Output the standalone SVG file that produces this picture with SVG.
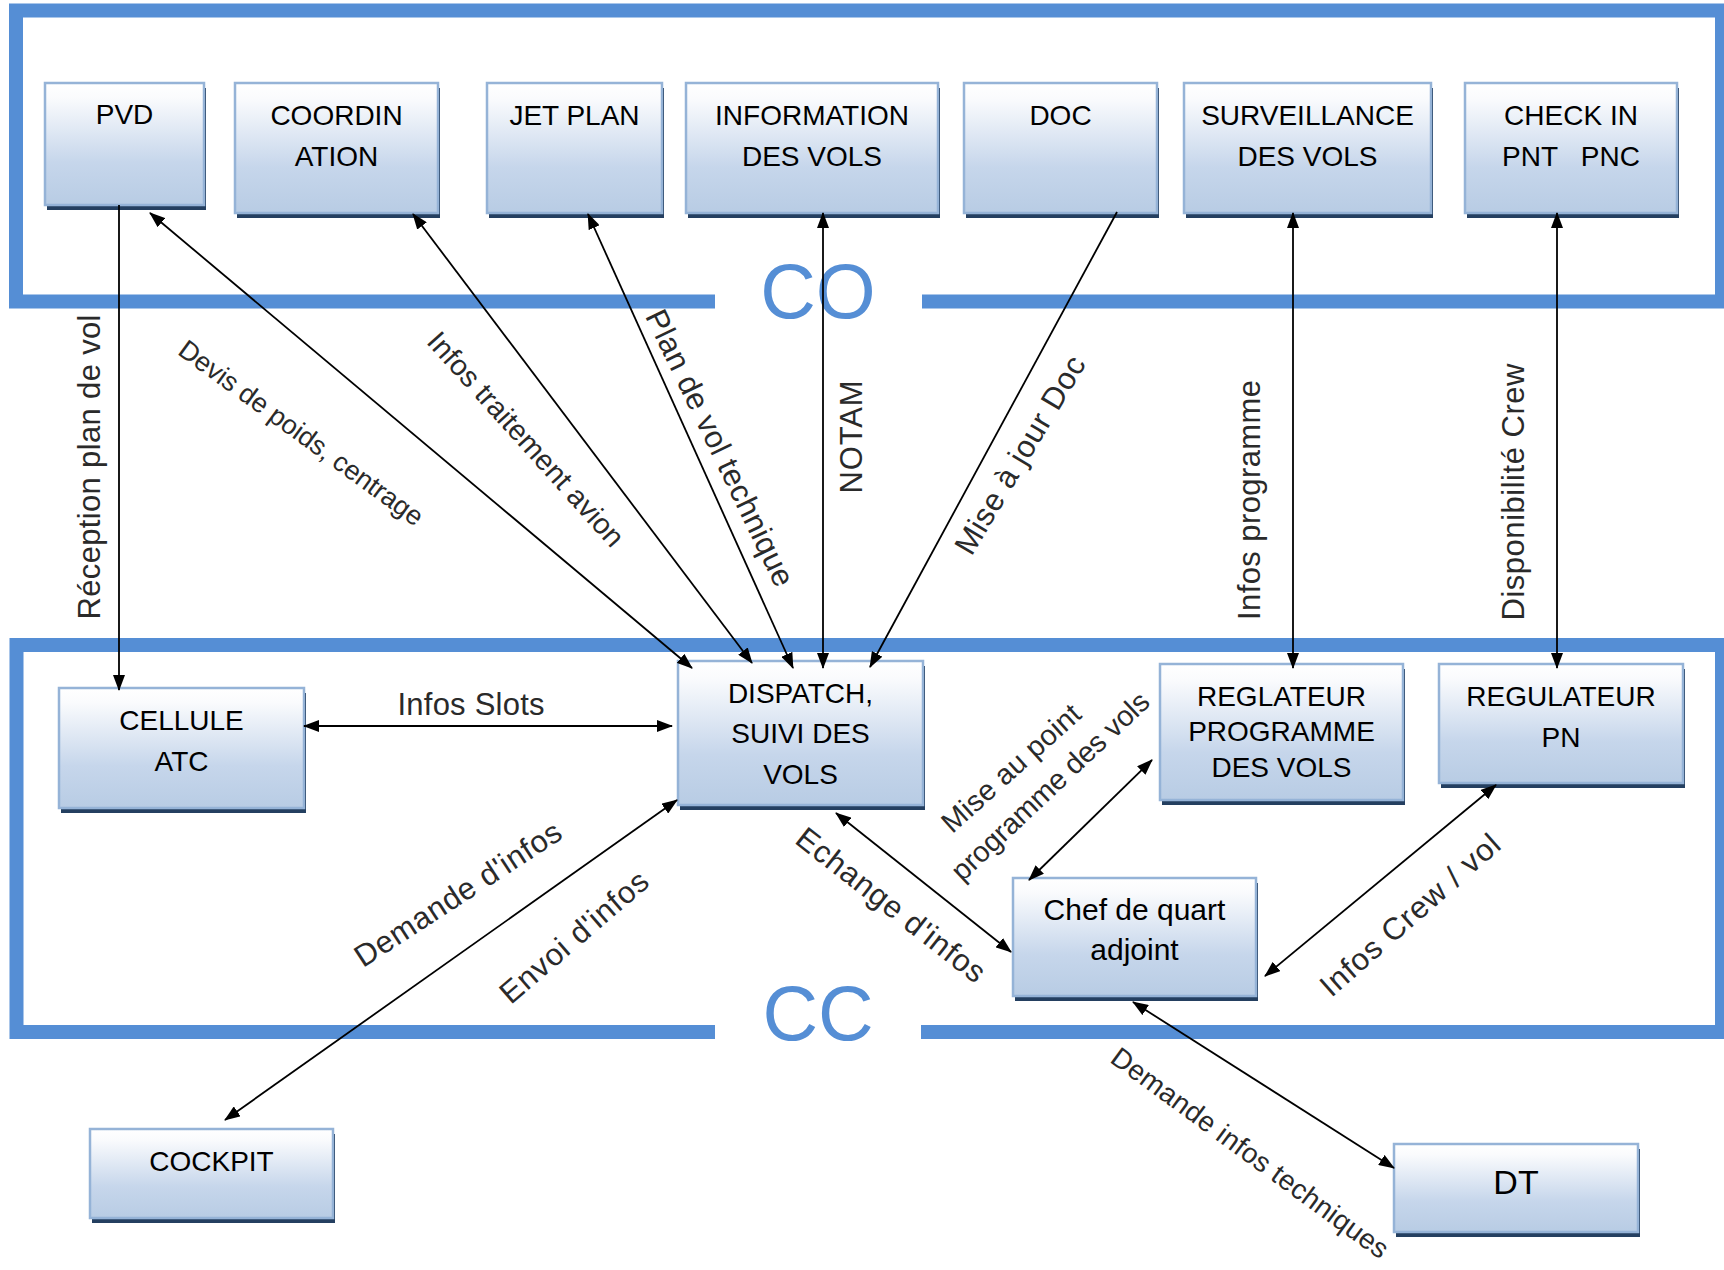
<svg xmlns="http://www.w3.org/2000/svg" width="1724" height="1270" viewBox="0 0 1724 1270">
<defs>
  <linearGradient id="nodeFill" x1="0" y1="0" x2="0" y2="1">
    <stop offset="0" stop-color="#FFFFFF"/>
    <stop offset="0.12" stop-color="#FAFBFD"/>
    <stop offset="0.65" stop-color="#C6D6EB"/>
    <stop offset="1" stop-color="#B8CCE4"/>
  </linearGradient>
  <marker id="ah" viewBox="0 0 16 12" refX="15" refY="6" markerWidth="16" markerHeight="12" markerUnits="userSpaceOnUse" orient="auto-start-reverse">
    <path d="M0,0 L16,6 L0,12 z" fill="#000"/>
  </marker>
  <style>
    .frame { fill: none; stroke: #558ED5; stroke-width: 14; }
    .zone { font-family: "Liberation Sans", Arial, sans-serif; font-size: 77px; fill: #558ED5; text-anchor: middle; }
    .shadow { fill: #243F60; }
    .box { fill: url(#nodeFill); stroke: #95B3D7; stroke-width: 2.5; }
    .nt { font-family: "Liberation Sans", Arial, sans-serif; font-size: 28px; fill: #000; text-anchor: middle; }
    .nt2 { font-family: "Liberation Sans", Arial, sans-serif; font-size: 30px; fill: #000; text-anchor: middle; }
    .edge { fill: none; stroke: #000; stroke-width: 1.8; }
    .lbl { font-family: "Liberation Sans", Arial, sans-serif; font-size: 31px; fill: #2A2A2A; text-anchor: middle; dominant-baseline: central; }
  </style>
</defs>
<rect width="1724" height="1270" fill="#FFFFFF"/>

<g id="frames">
  <path class="frame" d="M715,301.5 H16 V10.5 H1722 V301.5 H922"/>
  <text class="zone" x="818" y="318">CO</text>
  <path class="frame" d="M715,1032 H16.5 V645 H1722 V1032 H921"/>
  <text class="zone" x="818" y="1040">CC</text>
</g>

<g id="nodes">
  <g id="node-pvd">
    <rect class="shadow" x="47" y="88" width="159" height="122"/>
    <rect class="box" x="45" y="83" width="159" height="122"/>
    <text class="nt" x="124.5" y="124">PVD</text>
  </g>
  <g id="node-coordination">
    <rect class="shadow" x="237" y="88" width="203" height="130"/>
    <rect class="box" x="235" y="83" width="203" height="130"/>
    <text class="nt" x="336.5" y="125">COORDIN</text>
    <text class="nt" x="336.5" y="166">ATION</text>
  </g>
  <g id="node-jetplan">
    <rect class="shadow" x="489" y="88" width="175" height="130"/>
    <rect class="box" x="487" y="83" width="175" height="130"/>
    <text class="nt" x="574.5" y="125">JET PLAN</text>
  </g>
  <g id="node-information">
    <rect class="shadow" x="688" y="88" width="252" height="130"/>
    <rect class="box" x="686" y="83" width="252" height="130"/>
    <text class="nt" x="812" y="125">INFORMATION</text>
    <text class="nt" x="812" y="166">DES VOLS</text>
  </g>
  <g id="node-doc">
    <rect class="shadow" x="966" y="88" width="193" height="130"/>
    <rect class="box" x="964" y="83" width="193" height="130"/>
    <text class="nt" x="1060.5" y="125">DOC</text>
  </g>
  <g id="node-surveillance">
    <rect class="shadow" x="1186" y="88" width="247" height="130"/>
    <rect class="box" x="1184" y="83" width="247" height="130"/>
    <text class="nt" x="1307.5" y="125">SURVEILLANCE</text>
    <text class="nt" x="1307.5" y="166">DES VOLS</text>
  </g>
  <g id="node-checkin">
    <rect class="shadow" x="1467" y="88" width="212" height="130"/>
    <rect class="box" x="1465" y="83" width="212" height="130"/>
    <text class="nt" x="1571" y="125">CHECK IN</text>
    <text class="nt" x="1571" y="166" xml:space="preserve">PNT   PNC</text>
  </g>
  <g id="node-cellule">
    <rect class="shadow" x="61" y="693" width="245" height="120"/>
    <rect class="box" x="59" y="688" width="245" height="120"/>
    <text class="nt" x="181.5" y="730">CELLULE</text>
    <text class="nt" x="181.5" y="771">ATC</text>
  </g>
  <g id="node-dispatch">
    <rect class="shadow" x="680" y="666" width="245" height="144"/>
    <rect class="box" x="678" y="661" width="245" height="144"/>
    <text class="nt" x="800.5" y="703">DISPATCH,</text>
    <text class="nt" x="800.5" y="743">SUIVI DES</text>
    <text class="nt" x="800.5" y="784">VOLS</text>
  </g>
  <g id="node-reglateur">
    <rect class="shadow" x="1162" y="669" width="243" height="136"/>
    <rect class="box" x="1160" y="664" width="243" height="136"/>
    <text class="nt" x="1281.5" y="706">REGLATEUR</text>
    <text class="nt" x="1281.5" y="741">PROGRAMME</text>
    <text class="nt" x="1281.5" y="777">DES VOLS</text>
  </g>
  <g id="node-regulateur-pn">
    <rect class="shadow" x="1441" y="669" width="244" height="119"/>
    <rect class="box" x="1439" y="664" width="244" height="119"/>
    <text class="nt" x="1561" y="706">REGULATEUR</text>
    <text class="nt" x="1561" y="747">PN</text>
  </g>
  <g id="node-chef">
    <rect class="shadow" x="1015" y="883" width="243" height="118"/>
    <rect class="box" x="1013" y="878" width="243" height="118"/>
    <text class="nt2" x="1134.5" y="920">Chef de quart</text>
    <text class="nt2" x="1134.5" y="960">adjoint</text>
  </g>
  <g id="node-cockpit">
    <rect class="shadow" x="92" y="1134" width="243" height="89"/>
    <rect class="box" x="90" y="1129" width="243" height="89"/>
    <text class="nt" x="211.5" y="1171">COCKPIT</text>
  </g>
  <g id="node-dt">
    <rect class="shadow" x="1396" y="1149" width="244" height="88"/>
    <rect class="box" x="1394" y="1144" width="244" height="88"/>
    <text class="nt" x="1516" y="1194" style="font-size:34px">DT</text>
  </g>
</g>

<g id="connectors">
  <line class="edge" x1="119" y1="205" x2="119" y2="690" marker-end="url(#ah)"/>
  <line class="edge" x1="150" y1="213" x2="692" y2="668" marker-start="url(#ah)" marker-end="url(#ah)"/>
  <line class="edge" x1="413" y1="214" x2="752" y2="663" marker-start="url(#ah)" marker-end="url(#ah)"/>
  <line class="edge" x1="588" y1="214" x2="793" y2="668" marker-start="url(#ah)" marker-end="url(#ah)"/>
  <line class="edge" x1="823" y1="213" x2="823" y2="668" marker-start="url(#ah)" marker-end="url(#ah)"/>
  <line class="edge" x1="1117" y1="212" x2="870" y2="667" marker-end="url(#ah)"/>
  <line class="edge" x1="1293" y1="213" x2="1293" y2="668" marker-start="url(#ah)" marker-end="url(#ah)"/>
  <line class="edge" x1="1557" y1="213" x2="1557" y2="668" marker-start="url(#ah)" marker-end="url(#ah)"/>
  <line class="edge" x1="304" y1="726" x2="672" y2="726" marker-start="url(#ah)" marker-end="url(#ah)"/>
  <line class="edge" x1="225" y1="1120" x2="677" y2="800" marker-start="url(#ah)" marker-end="url(#ah)"/>
  <line class="edge" x1="836" y1="813" x2="1011" y2="952" marker-start="url(#ah)" marker-end="url(#ah)"/>
  <line class="edge" x1="1029" y1="880" x2="1152" y2="760" marker-start="url(#ah)" marker-end="url(#ah)"/>
  <line class="edge" x1="1265" y1="976" x2="1496" y2="785" marker-start="url(#ah)" marker-end="url(#ah)"/>
  <line class="edge" x1="1133" y1="1002" x2="1394" y2="1168" marker-start="url(#ah)" marker-end="url(#ah)"/>

  <g id="edge-labels">
    <text class="lbl" transform="translate(89,467) rotate(-90)" textLength="305">Réception plan de vol</text>
    <text class="lbl" transform="translate(301,433) rotate(36)" style="font-size:27px" textLength="295">Devis de poids, centrage</text>
    <text class="lbl" transform="translate(526,439) rotate(48)" style="font-size:29px" textLength="278">Infos traitement avion</text>
    <text class="lbl" transform="translate(720,448) rotate(64.3)" textLength="303">Plan de vol technique</text>
    <text class="lbl" transform="translate(851,437) rotate(-90)" textLength="113">NOTAM</text>
    <text class="lbl" transform="translate(1020,455) rotate(-59.2)" textLength="225">Mise à jour Doc</text>
    <text class="lbl" transform="translate(1249,500) rotate(-90)" textLength="240">Infos programme</text>
    <text class="lbl" transform="translate(1513,492) rotate(-90)" textLength="257">Disponibilité Crew</text>
    <text class="lbl" x="471" y="715" style="dominant-baseline:auto" textLength="147">Infos Slots</text>
    <text class="lbl" transform="translate(458,894) rotate(-33)" textLength="240">Demande d'infos</text>
    <text class="lbl" transform="translate(574,937) rotate(-40.7)" textLength="185">Envoi d'infos</text>
    <text class="lbl" transform="translate(891,905) rotate(38)" textLength="231">Echange d'infos</text>
    <text class="lbl" transform="translate(1011,768) rotate(-42)" style="font-size:29px" textLength="176">Mise au point</text>
    <text class="lbl" transform="translate(1050,786) rotate(-43.3)" style="font-size:29px" textLength="260">programme des vols</text>
    <text class="lbl" transform="translate(1410,915) rotate(-41.3)" textLength="228">Infos Crew / vol</text>
    <text class="lbl" transform="translate(1250,1153) rotate(36.2)" style="font-size:28px" textLength="336">Demande infos techniques</text>
  </g>
</g>
</svg>
